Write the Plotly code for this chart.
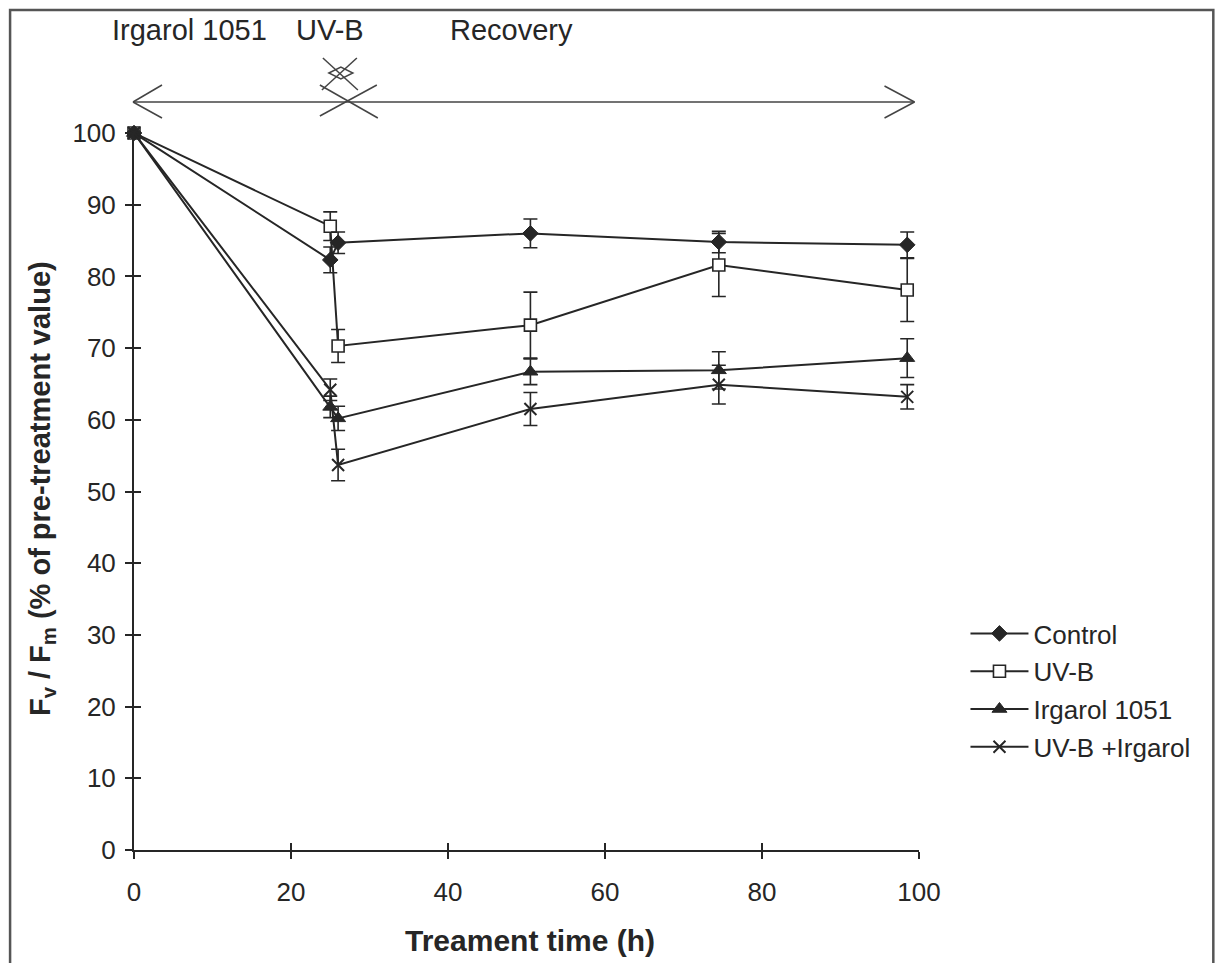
import plotly.graph_objects as go

# ---------------- data ----------------
time_h = [0, 25, 26, 50.5, 74.5, 98.5]

control = [100, 82.3, 84.7, 86.0, 84.8, 84.4]
control_err = [None, 1.8, 1.5, 2.0, 1.5, 1.8]

uvb = [100, 87.0, 70.3, 73.2, 81.6, 78.1]
uvb_err = [None, 2.0, 2.3, 4.6, 4.4, 4.4]

irgarol = [100, 61.8, 60.2, 66.7, 66.9, 68.6]
irgarol_err = [None, 1.5, 1.7, 1.8, 2.6, 2.7]

uvb_irg = [100, 64.2, 53.7, 61.5, 64.9, 63.2]
uvb_irg_err = [None, 1.5, 2.2, 2.3, 2.7, 1.7]

series_names = ["Control", "UV-B", "Irgarol 1051", "UV-B +Irgarol"]

x_ticks = [0, 20, 40, 60, 80, 100]
y_ticks = [0, 10, 20, 30, 40, 50, 60, 70, 80, 90, 100]

phase_labels = ["Irgarol 1051", "UV-B", "Recovery"]

# ---------------- layout geometry ----------------
OFF = 8  # page offset of the figure inside the browser window
W, H = 1226, 963
# reference pixel positions of the plot area
REF_X0, REF_X1, REF_Y0, REF_Y1 = 134, 919.5, 133, 850
L = REF_X0 - OFF
T = REF_Y0 - OFF
R = W - (REF_X1 - OFF)
B = H - (REF_Y1 - OFF)
PW = REF_X1 - REF_X0
PH = REF_Y1 - REF_Y0
FONT = "Liberation Sans, Arial, sans-serif"
INK = "#262626"


def px_x(px):
    return (px - REF_X0) / PW


def px_y(py):
    return (REF_Y1 - py) / PH


fig = go.Figure()

styles = [
    dict(symbol="diamond", size=12, color=INK, line=dict(color=INK, width=1)),
    dict(symbol="square", size=12, color="white", line=dict(color=INK, width=1.6)),
    dict(symbol="triangle-up", size=13, color=INK, line=dict(color=INK, width=1)),
    dict(symbol="x-thin-open", size=12, color=INK, line=dict(color=INK, width=2)),
]
ys = [control, uvb, irgarol, uvb_irg]
errs = [control_err, uvb_err, irgarol_err, uvb_irg_err]
draw_order = [1, 0, 2, 3]
for i in draw_order:
    fig.add_trace(go.Scatter(
        x=time_h, y=ys[i], name=series_names[i], mode="lines+markers",
        line=dict(color=INK, width=2),
        marker=styles[i],
        error_y=dict(type="data", array=errs[i], visible=True,
                     color=INK, thickness=1.6, width=7),
        cliponaxis=False, legendrank=i + 1, legendgroup=str(i),
    ))

# invisible trace to carry the inside-tick overlay axes
fig.add_trace(go.Scatter(x=[0], y=[0], xaxis="x2", yaxis="y2", mode="markers",
                         marker=dict(opacity=0), showlegend=False, hoverinfo="skip"))

axis_common = dict(showgrid=False, zeroline=False, ticks="outside", ticklen=7,
                   tickwidth=1.5, tickcolor=INK, linecolor=INK, linewidth=2,
                   showline=True, tickfont=dict(family=FONT, size=26, color=INK))

fig.update_layout(
    width=W, height=H,
    margin=dict(l=L, r=R, t=T, b=B),
    paper_bgcolor="white", plot_bgcolor="white",
    font=dict(family=FONT, color=INK),
    xaxis=dict(range=[0, 100], tickvals=x_ticks, ticklabelstandoff=11, **axis_common),
    yaxis=dict(range=[0, 100], tickvals=y_ticks, ticklabelstandoff=4, **axis_common),
    xaxis2=dict(range=[0, 100], overlaying="x", tickvals=x_ticks, ticks="inside",
                ticklen=7, tickwidth=1.5, tickcolor=INK, showticklabels=False,
                showline=False, showgrid=False, zeroline=False),
    yaxis2=dict(range=[0, 100], overlaying="y", tickvals=y_ticks, ticks="inside",
                ticklen=7, tickwidth=1.5, tickcolor=INK, showticklabels=False,
                showline=False, showgrid=False, zeroline=False),
    showlegend=True,
    legend=dict(x=px_x(966), y=px_y(610), xanchor="left", yanchor="top",
                bgcolor="rgba(0,0,0,0)", font=dict(family=FONT, size=26, color=INK),
                itemwidth=58, tracegroupgap=1, traceorder="grouped"),
)

# axis titles as annotations
fig.add_annotation(text="<b>Treament time (h)</b>", xref="paper", yref="paper",
                   x=px_x(530), y=px_y(940), xanchor="center", yanchor="middle",
                   showarrow=False, font=dict(family=FONT, size=30, color=INK))
fig.add_annotation(text="<b>F<sub>v</sub> / F<sub>m</sub> (% of pre-treatment value)</b>",
                   xref="paper", yref="paper", x=px_x(42), y=px_y(489),
                   xanchor="center", yanchor="middle", textangle=-90,
                   showarrow=False, font=dict(family=FONT, size=29, color=INK))

# phase labels
for label, cx in zip(phase_labels, [190, 330, 512]):
    fig.add_annotation(text=label, xref="paper", yref="paper", x=px_x(cx), y=px_y(30),
                       xanchor="center", yanchor="middle", showarrow=False,
                       font=dict(family=FONT, size=29, color=INK))

# phase arrow and markers (decoration, pixel geometry)
ln = dict(color="#444444", width=1.5)


def seg(x0, y0, x1, y1):
    fig.add_shape(type="line", xref="paper", yref="paper",
                  x0=px_x(x0), y0=px_y(y0), x1=px_x(x1), y1=px_y(y1), line=ln)


seg(133, 102, 915, 102)
seg(133, 102, 162, 85)
seg(133, 102, 162, 118)
seg(915, 102, 885, 86)
seg(915, 102, 885, 118)
# large cross on arrow
seg(320, 85, 378, 118)
seg(377, 85, 320, 116)
# small crossing marks above
seg(323, 58, 358, 90)
seg(357, 58, 322, 90)
fig.add_shape(type="path", xref="paper", yref="paper", line=ln,
              path="M {} {} L {} {} L {} {} L {} {} Z".format(
                  px_x(329), px_y(73), px_x(341), px_y(67),
                  px_x(353), px_y(73), px_x(341), px_y(79)))

# outer frame
fig.add_shape(type="rect", xref="paper", yref="paper",
              x0=px_x(10), y0=px_y(10), x1=px_x(1214), y1=px_y(990),
              line=dict(color="#555555", width=2.5))

fig.write_html("out.html")
